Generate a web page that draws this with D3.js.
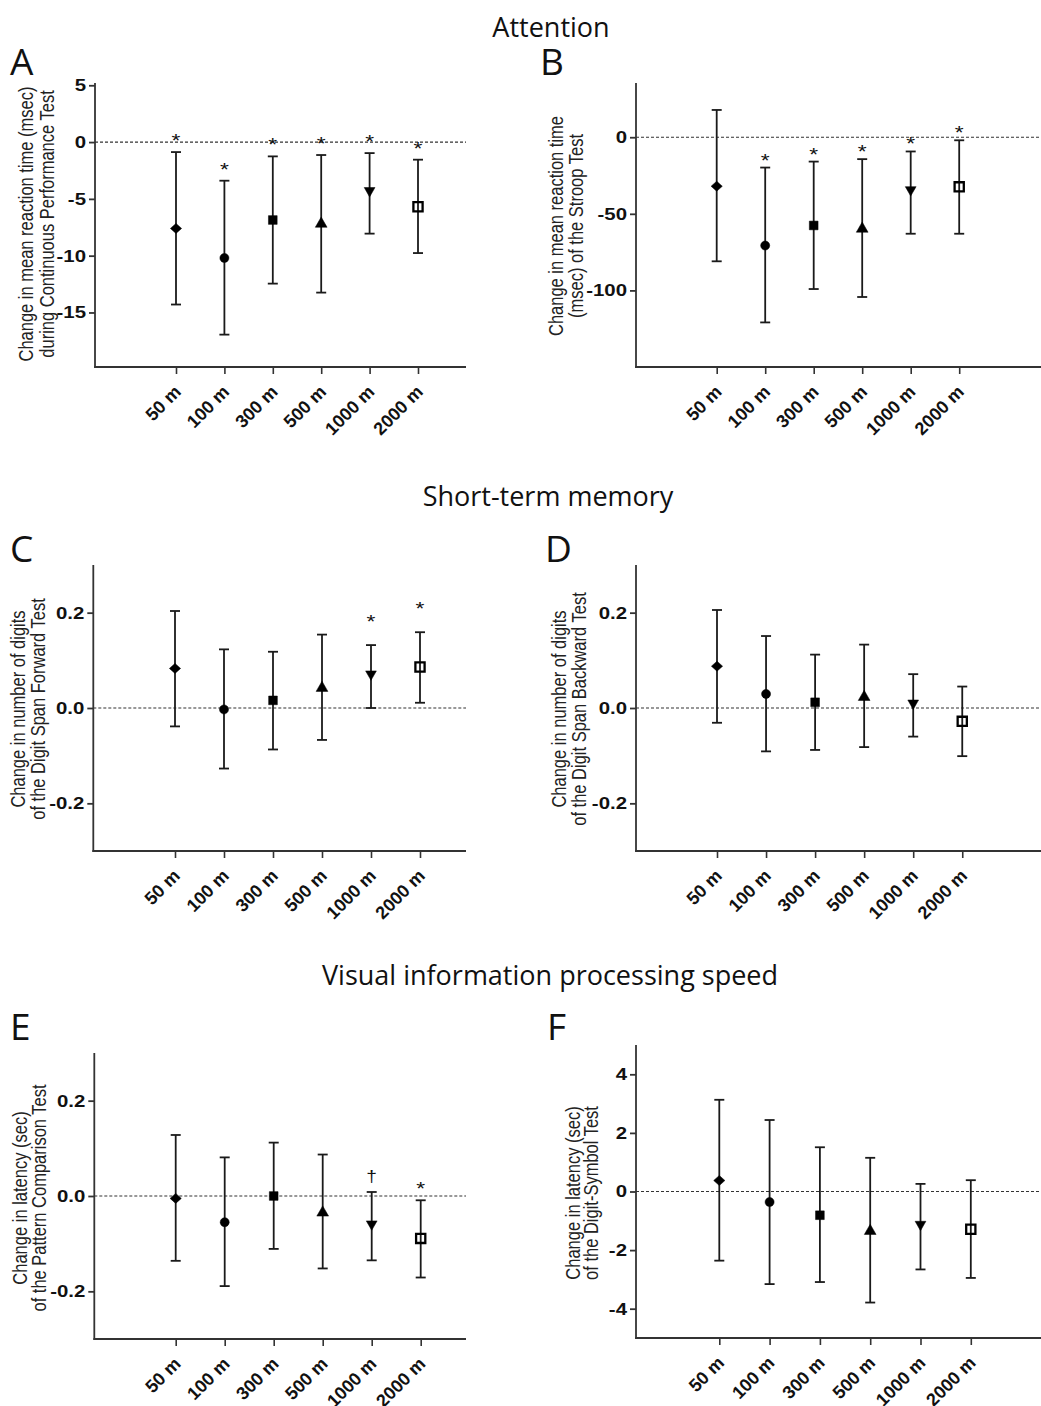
<!DOCTYPE html>
<html><head><meta charset="utf-8">
<script src="https://cdn.jsdelivr.net/npm/d3@7"></script>
<style>body{margin:0;background:#fff} svg{display:block}</style>
</head><body>
<svg id="chart" width="1041" height="1406"></svg>
<script>
// ---------- data ----------
const categories = ["50 m","100 m","300 m","500 m","1000 m","2000 m"];
const markerTypes = ["diamond","circle","square","triangle","triangleDown","openSquare"];
const sectionTitles = ["Attention","Short-term memory","Visual information processing speed"];

const aMean  = [-7.6, -10.2, -6.86, -7.2, -4.37, -5.69];
const aUpper = [-0.88, -3.4, -1.26, -1.14, -0.97, -1.55];
const aLower = [-14.3, -16.95, -12.46, -13.25, -8.06, -9.77];
const aSig   = ["*","*","*","*","*","*"];
const aTicks = [5, 0, -5, -10, -15];

const bMean  = [-32, -70.7, -57.6, -59.8, -35, -32.4];
const bUpper = [17.8, -19.8, -15.9, -14.3, -9.3, -2];
const bLower = [-81, -120.9, -99.1, -104.3, -63, -63];
const bSig   = ["","*","*","*","*","*"];
const bTicks = [0, -50, -100];

const cMean  = [0.083, -0.003, 0.016, 0.042, 0.069, 0.086];
const cUpper = [0.2035, 0.123, 0.118, 0.154, 0.132, 0.159];
const cLower = [-0.0386, -0.127, -0.087, -0.067, 0.0, 0.011];
const cSig   = ["","","","","*","*"];
const cTicks = [0.2, 0.0, -0.2];

const dMean  = [0.0877, 0.0295, 0.012, 0.023, 0.008, -0.028];
const dUpper = [0.2056, 0.151, 0.112, 0.133, 0.071, 0.045];
const dLower = [-0.031, -0.091, -0.088, -0.082, -0.06, -0.101];
const dSig   = ["","","","","",""];
const dTicks = [0.2, 0.0, -0.2];

const eMean  = [-0.005, -0.055, 0.0, -0.035, -0.061, -0.089];
const eUpper = [0.128, 0.081, 0.112, 0.087, 0.0084, -0.009];
const eLower = [-0.136, -0.189, -0.111, -0.152, -0.135, -0.171];
const eSig   = ["","","","","\u2020","*"];
const eTicks = [0.2, 0.0, -0.2];

const fMean  = [0.375, -0.36, -0.81, -1.35, -1.16, -1.29];
const fUpper = [3.13, 2.44, 1.51, 1.15, 0.26, 0.386];
const fLower = [-2.36, -3.16, -3.09, -3.79, -2.66, -2.95];
const fSig   = ["","","","","",""];
const fTicks = [4, 2, 0, -2, -4];

const yTitleA = ["Change in mean reaction time (msec)","during Continuous Performance Test"];
const yTitleB = ["Change in mean reaction time","(msec) of the Stroop Test"];
const yTitleC = ["Change in number of digits","of the Digit Span Forward Test"];
const yTitleD = ["Change in number of digits","of the Digit Span Backward Test"];
const yTitleE = ["Change in latency (sec)","of the Pattern Comparison Test"];
const yTitleF = ["Change in latency (sec)","of the Digit-Symbol Test"];

// ---------- layout ----------
const SX = 1.2; // horizontal text stretch seen in the figure
const fmtInt = d => String(d);
const fmt1 = d => d.toFixed(1);

const panels = [
  {letter:"A", lx:10,  ly:75,   mean:aMean, upper:aUpper, lower:aLower, sig:aSig, ticks:aTicks, fmt:fmtInt, title:yTitleA,
   domain:[-19.8,5.2], left:95,  top:83,  bottom:367, first:176,   step:48.4, right:466,  tb:[33,54],  tc:224, sigOff:16},
  {letter:"B", lx:540, ly:75,   mean:bMean, upper:bUpper, lower:bLower, sig:bSig, ticks:bTicks, fmt:fmtInt, title:yTitleB,
   domain:[-150,35.4], left:636, top:83,  bottom:367, first:716.7, step:48.5, right:1041, tb:[563,583], tc:226, sigOff:12},
  {letter:"C", lx:10,  ly:562,  mean:cMean, upper:cUpper, lower:cLower, sig:cSig, ticks:cTicks, fmt:fmt1, title:yTitleC,
   domain:[-0.3,0.3], left:93.3, top:565, bottom:851, first:175,   step:49,   right:466,  tb:[25,45],  tc:709, sigOff:28},
  {letter:"D", lx:545, ly:562,  mean:dMean, upper:dUpper, lower:dLower, sig:dSig, ticks:dTicks, fmt:fmt1, title:yTitleD,
   domain:[-0.3,0.3], left:636, top:565, bottom:851, first:717,   step:49.05, right:1041, tb:[566,586], tc:709, sigOff:20},
  {letter:"E", lx:10,  ly:1040, mean:eMean, upper:eUpper, lower:eLower, sig:eSig, ticks:eTicks, fmt:fmt1, title:yTitleE,
   domain:[-0.3,0.3], left:94.3, top:1053, bottom:1339, first:175.7, step:49,  right:466,  tb:[27,46],  tc:1198, sigOff:16},
  {letter:"F", lx:547, ly:1040, mean:fMean, upper:fUpper, lower:fLower, sig:fSig, ticks:fTicks, fmt:fmtInt, title:yTitleF,
   domain:[-5,5], left:636, top:1045, bottom:1338, first:719.3, step:50.3, right:1041, tb:[580,598], tc:1193, sigOff:16}
];
const sectionPos = [[551,37],[548,506],[550,985]];

const svg = d3.select("#chart");
const AX = "#333", INK = "#1a1a1a";

// section titles
svg.selectAll("text.section").data(sectionTitles).join("text")
  .attr("class","section")
  .attr("x",(d,i)=>sectionPos[i][0]).attr("y",(d,i)=>sectionPos[i][1])
  .attr("text-anchor","middle")
  .style("font-family","'Open Sans','Noto Sans',sans-serif")
  .style("font-size","27px").style("fill","#111")
  .text(d=>d);

function markerPath(type){
  switch(type){
    case "diamond": return "M0,-5L5.6,0L0,5L-5.6,0Z";
    case "circle": return d3.symbol(d3.symbolCircle, 64)();
    case "square": return d3.symbol(d3.symbolSquare, 76)();
    case "triangle": return d3.symbol(d3.symbolTriangle, 60)();
    case "triangleDown": return "M-5.4,-4.2L5.4,-4.2L0,5.2Z";
    case "openSquare": return "M-4.6,-4.6L4.6,-4.6L4.6,4.6L-4.6,4.6Z";
  }
}

panels.forEach(p=>{
  const g = svg.append("g");
  const y = d3.scaleLinear().domain(p.domain).range([p.bottom,p.top]);
  const x = d3.scalePoint().domain(categories).range([p.first, p.first + 5*p.step]);

  // panel letter
  g.append("text").attr("x",p.lx).attr("y",p.ly)
    .style("font-family","'Open Sans','Noto Sans',sans-serif")
    .style("font-size","37px").style("fill","#111").text(p.letter);

  // y axis
  const ya = g.append("g").attr("transform",`translate(${p.left},0)`)
    .call(d3.axisLeft(y).tickValues(p.ticks).tickSize(6).tickPadding(3).tickFormat(p.fmt));
  ya.select(".domain").remove();
  ya.selectAll(".tick line").attr("stroke",AX).attr("stroke-width",1.8);
  ya.selectAll(".tick text")
    .attr("x",-9/SX).attr("transform",`scale(${SX},1)`)
    .style("font-family","'Liberation Sans',Arial,sans-serif")
    .style("font-size","17px").style("font-weight","bold").style("fill","#111");
  g.append("line").attr("x1",p.left).attr("x2",p.left)
    .attr("y1",y(p.domain[1])).attr("y2",y(p.domain[0])+0.9)
    .attr("stroke",AX).attr("stroke-width",1.8);

  // x axis
  const xa = g.append("g").attr("transform",`translate(0,${p.bottom})`)
    .call(d3.axisBottom(x).tickSize(7).tickFormat(""));
  xa.select(".domain").remove();
  xa.selectAll(".tick line").attr("stroke",AX).attr("stroke-width",1.6);
  g.append("line").attr("x1",p.left-0.9).attr("x2",p.right)
    .attr("y1",p.bottom).attr("y2",p.bottom)
    .attr("stroke",AX).attr("stroke-width",1.8);
  g.selectAll("text.xlab").data(categories).join("text")
    .attr("class","xlab")
    .attr("transform",d=>`translate(${x(d)+6},${p.bottom+26}) rotate(-45)`)
    .attr("text-anchor","end")
    .style("font-family","'Liberation Sans',Arial,sans-serif")
    .style("font-size","18px").style("font-weight","bold").style("fill","#111")
    .text(d=>d);

  // zero reference line
  g.append("line").attr("x1",p.left).attr("x2",p.right)
    .attr("y1",y(0)).attr("y2",y(0))
    .attr("stroke",AX).attr("stroke-width",1.2).attr("stroke-dasharray","3,2");

  // y title
  g.selectAll("text.ytitle").data(p.title).join("text")
    .attr("class","ytitle")
    .attr("transform",(d,i)=>`translate(${p.tb[i]},${p.tc}) scale(${SX},1) rotate(-90)`)
    .attr("text-anchor","middle")
    .style("font-family","'Liberation Sans',Arial,sans-serif")
    .style("font-size","16.5px").style("fill","#222")
    .text(d=>d);

  // error bars
  const rows = categories.map((c,i)=>({c, m:p.mean[i], u:p.upper[i], l:p.lower[i], s:p.sig[i], t:markerTypes[i]}));
  const eb = g.selectAll("g.eb").data(rows).join("g").attr("class","eb");
  eb.append("line").attr("x1",d=>x(d.c)).attr("x2",d=>x(d.c))
    .attr("y1",d=>y(d.u)).attr("y2",d=>y(d.l))
    .attr("stroke",INK).attr("stroke-width",1.8);
  eb.append("line").attr("x1",d=>x(d.c)-5).attr("x2",d=>x(d.c)+5)
    .attr("y1",d=>y(d.u)).attr("y2",d=>y(d.u))
    .attr("stroke",INK).attr("stroke-width",1.8);
  eb.append("line").attr("x1",d=>x(d.c)-5).attr("x2",d=>x(d.c)+5)
    .attr("y1",d=>y(d.l)).attr("y2",d=>y(d.l))
    .attr("stroke",INK).attr("stroke-width",1.8);
  eb.append("path").attr("d",d=>markerPath(d.t))
    .attr("transform",d=>`translate(${x(d.c)},${y(d.m)})`)
    .attr("fill",d=>d.t==="openSquare"?"none":"#000")
    .attr("stroke","#000").attr("stroke-width",d=>d.t==="openSquare"?2.3:0.5);

  // significance marks
  eb.filter(d=>d.s!=="").append("text")
    .attr("transform",d=>`translate(${x(d.c)},${y(d.u)-p.sigOff + (d.s==="*"?11:6)}) scale(${SX},1)`)
    .attr("text-anchor","middle")
    .style("font-family","'Liberation Sans',Arial,sans-serif")
    .style("font-size",d=>d.s==="*"?"19px":"16px").style("fill","#111")
    .text(d=>d.s);
});
</script>
</body></html>
